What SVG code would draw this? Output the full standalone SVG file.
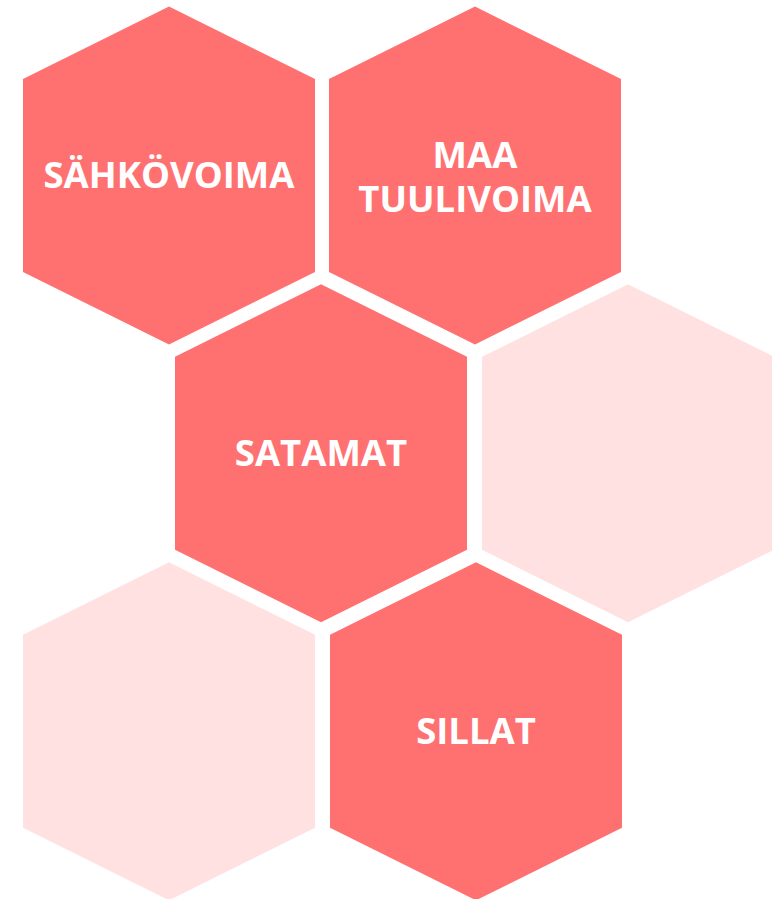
<svg xmlns="http://www.w3.org/2000/svg" width="772" height="899" viewBox="0 0 772 899">
<style>
.dark{fill:#FF7171}
.light{fill:#FFE1E1}
.lbl{font-family:"Open Sans","Liberation Sans",sans-serif;font-weight:bold;font-size:36.5px;fill:#FFFFFF;text-anchor:middle}
</style>
<defs>
<polygon id="hex" points="0,-169 146,-96.5 146,96.5 0,169 -146,96.5 -146,-96.5"/>
</defs>
<rect width="772" height="899" fill="#FFFFFF"/>
<g id="n1"><use href="#hex" class="dark" x="169" y="175.5"/><text class="lbl" x="169" y="188">SÄHKÖVOIMA</text></g>
<g id="n2"><use href="#hex" class="dark" x="475" y="175.5"/><text class="lbl" x="475" y="168">MAA</text><text class="lbl" x="475" y="212">TUULIVOIMA</text></g>
<g id="n3"><use href="#hex" class="dark" x="321" y="453.3"/><text class="lbl" x="321" y="466">SATAMAT</text></g>
<g id="n4"><use href="#hex" class="light" x="628" y="453.3"/></g>
<g id="n5"><use href="#hex" class="light" x="169" y="731.3"/></g>
<g id="n6"><use href="#hex" class="dark" x="476" y="731.3"/><text class="lbl" x="476" y="744">SILLAT</text></g>
<g id="connectors"/>
</svg>
